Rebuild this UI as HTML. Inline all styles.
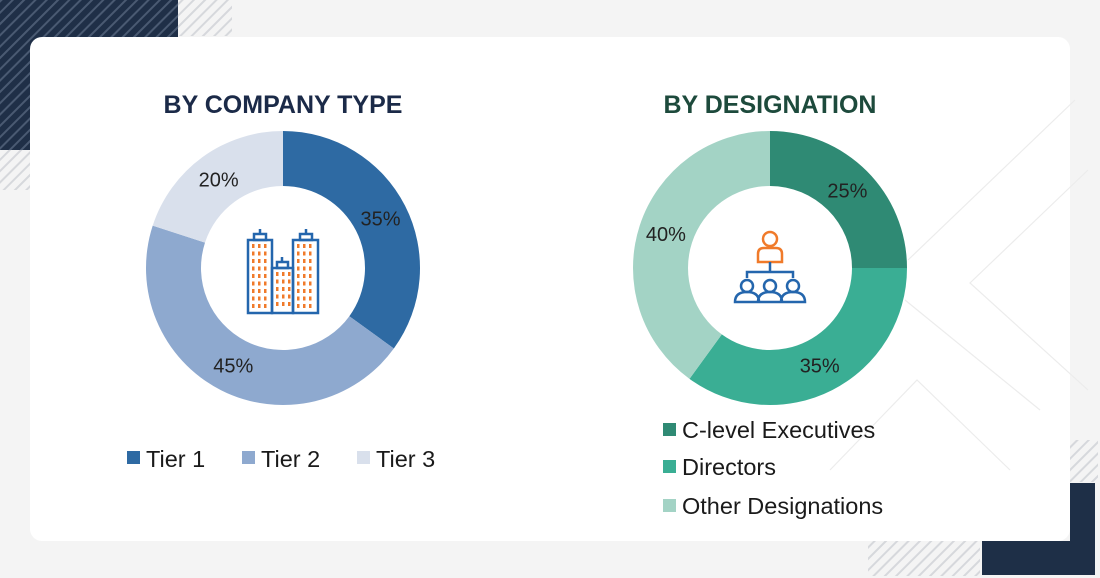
<!DOCTYPE html>
<html><head><meta charset="utf-8">
<style>
body{margin:0;width:1100px;height:578px;overflow:hidden;background:#f4f4f4;font-family:"Liberation Sans",sans-serif;}
svg{display:block}
</style></head>
<body>
<svg width="1100" height="578">
<defs>
<pattern id="hd" width="8" height="8" patternUnits="userSpaceOnUse" patternTransform="rotate(45)">
<rect width="8" height="8" fill="#1f2f47"/><rect width="2" height="8" fill="#4a5a72"/></pattern>
<pattern id="hl" width="8" height="8" patternUnits="userSpaceOnUse" patternTransform="rotate(45)">
<rect width="8" height="8" fill="#f4f4f4"/><rect width="2" height="8" fill="#d6d8dc"/></pattern>
</defs>
<g>
<rect x="0" y="0" width="178" height="150" fill="url(#hd)"/>
<rect x="178" y="0" width="54" height="36" fill="url(#hl)"/>
<rect x="0" y="150" width="30" height="40" fill="url(#hl)"/>
<rect x="1070" y="440" width="28" height="42" fill="url(#hl)"/>
<rect x="868" y="541" width="112" height="35" fill="url(#hl)"/>
<path d="M982 541 H1070 V483 H1095 V575 H982 Z" fill="#1e2f47"/>
</g>
<rect x="30" y="37" width="1040" height="504" rx="12" fill="#fff"/>
<g stroke="#ececec" stroke-width="1.2" fill="none">
<path d="M908 260 L1075 100"/><path d="M1088 170 L970 283 L1088 390"/>
<path d="M905 300 L1040 410"/><path d="M830 470 L917 380 L1010 470"/>
</g>
<text x="283" y="113" text-anchor="middle" font-size="25" font-weight="bold" fill="#1b2a48">BY COMPANY TYPE</text>
<text x="770" y="113" text-anchor="middle" font-size="25" font-weight="bold" fill="#1d4a3c">BY DESIGNATION</text>
<g id="d1"></g><g id="d2"></g>
<g fill="none" stroke="#2466ad" stroke-width="2.5">
<rect x="248" y="240" width="24" height="73"/><rect x="272" y="268" width="21" height="45"/><rect x="293" y="240" width="25" height="73"/>
<rect x="254" y="234" width="12" height="6"/><rect x="277" y="262" width="11" height="6"/><rect x="300" y="234" width="12" height="6"/>
<path d="M260 234v-5M282 262v-5M306 234v-5"/>
<g id="win" stroke="none" fill="#f07a2a"></g>
</g>
<g fill="none" stroke-width="2.5">
<g stroke="#f07a2a"><circle cx="770" cy="239" r="7"/><path d="M758 262 v-8 q0 -6 6 -6 h12 q6 0 6 6 v8 z"/></g>
<g stroke="#2466ad"><path d="M770 262 v10 M747 278 v-6 h46 v6"/>
<circle cx="747" cy="286" r="6"/><circle cx="770" cy="286" r="6"/><circle cx="793" cy="286" r="6"/>
<path d="M735 302 q0-10 12-10 q12 0 12 10 z M758 302 q0-10 12-10 q12 0 12 10 z M781 302 q0-10 12-10 q12 0 12 10 z"/></g>
</g>
<g id="leg"></g>
</svg>
<script>
const companyCats=["Tier 1","Tier 2","Tier 3"];
const companyVals=[35,45,20];
const companyColors=["#2e6aa3","#8ea9cf","#d9e0ec"];
const desigCats=["C-level Executives","Directors","Other Designations"];
const desigVals=[25,35,40];
const desigColors=["#2f8a74","#3aae94","#a3d3c5"];
const NS="http://www.w3.org/2000/svg";
function mk(t,a,p){const e=document.createElementNS(NS,t);for(const k in a)e.setAttribute(k,a[k]);p.appendChild(e);return e;}
function donut(g,cx,cy,vals,cols,cats,pre){
  const R=137,r=82,tot=vals.reduce((a,b)=>a+b,0);let a0=-Math.PI/2;
  vals.forEach((v,i)=>{
    const a1=a0+v/tot*2*Math.PI,lg=(a1-a0)>Math.PI?1:0;
    const p=(a,rad)=>[cx+rad*Math.cos(a),cy+rad*Math.sin(a)];
    const [x0,y0]=p(a0,R),[x1,y1]=p(a1,R),[x2,y2]=p(a1,r),[x3,y3]=p(a0,r);
    const s=mk('path',{d:`M${x0} ${y0}A${R} ${R} 0 ${lg} 1 ${x1} ${y1}L${x2} ${y2}A${r} ${r} 0 ${lg} 0 ${x3} ${y3}Z`,fill:cols[i]},g);
    
    
    const am=(a0+a1)/2,[lx,ly]=p(am,(R+r)/2);
    const t=mk('text',{x:lx,y:ly+7,'text-anchor':'middle','font-size':20,fill:'#222'},g);
    t.textContent=v+'%';
    
    
    a0=a1;
  });
}
donut(document.getElementById('d1'),283,268,companyVals,companyColors,companyCats,'company');
donut(document.getElementById('d2'),770,268,desigVals,desigColors,desigCats,'designation');
const w=document.getElementById('win');
[[252,244,3,9],[297,244,3,9],[276,272,3,5]].forEach(([x,y,c,n])=>{for(let i=0;i<n;i++)for(let j=0;j<c;j++)mk('rect',{x:x+j*6,y:y+i*7.5,width:2.5,height:4},w);});
const L=document.getElementById('leg');
const lx=[127,242,357];
companyCats.forEach((c,i)=>{
  const s=mk('rect',{x:lx[i],y:451,width:13,height:13,fill:companyColors[i]},L);
  
  
  const t=mk('text',{x:lx[i]+19,y:467,'font-size':23.5,fill:'#1a1a1a'},L);t.textContent=c;
  
  
});
const ly=[423,460,499];
desigCats.forEach((c,i)=>{
  const s=mk('rect',{x:663,y:ly[i],width:13,height:13,fill:desigColors[i]},L);
  
  
  const t=mk('text',{x:682,y:ly[i]+15,'font-size':23.5,fill:'#1a1a1a'},L);t.textContent=c;
  
  
});
</script>
</body></html>
